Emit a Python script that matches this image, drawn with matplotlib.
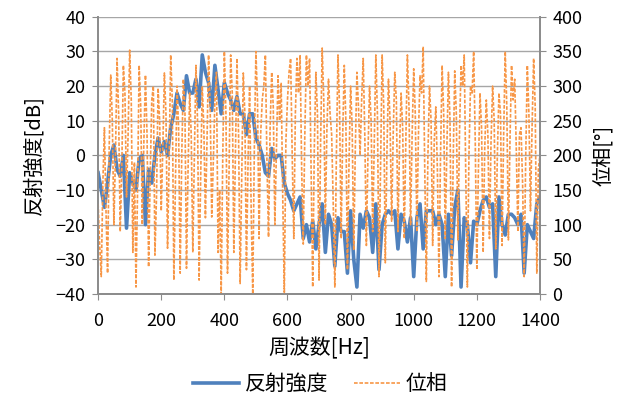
import numpy as np
import matplotlib
matplotlib.use('Agg')
import matplotlib.pyplot as plt

plt.rcParams['font.family'] = ['Noto Sans CJK JP', 'DejaVu Sans']

# 周波数 [Hz]
freq = np.arange(0, 1401, 10)       # 反射強度: 10 Hz刻み
freq_ph = np.arange(0, 1401, 5)     # 位相: 5 Hz刻み

# 反射強度 [dB]
intensity = [
    -5, -10, -15, -8, 0, 3, -4, -6, 0, -21,
    -5, -8, -10, -1, 0, -20, -4, -8, 0, 5,
    1, 4, 0, 8, 12, 18, 15, 13, 23, 18,
    18, 22, 14, 29, 24, 21, 13, 26, 19, 12,
    21, 18, 16, 13, 17, 12, 12, 6, 12, 12,
    5, 3, 0, -5, -6, 2, -1, 0, 0, -8,
    -11, -13, -16, -14, -12, -24, -20, -25, -19, -27,
    -20, -14, -28, -17, -20, -32, -18, -22, -22, -34,
    -16, -30, -38, -17, -21, -16, -18, -28, -14, -33,
    -20, -17, -16, -17, -16, -27, -17, -19, -25, -18,
    -35, -18, -14, -27, -16, -16, -16, -20, -17, -20,
    -35, -17, -29, -15, -10, -38, -18, -20, -31, -19,
    -20, -16, -13, -12, -15, -14, -35, -12, -20, -23,
    -17, -17, -18, -20, -17, -34, -20, -22, -24, -14,
    -12,
]

# 位相 [°]  (1行 = 100 Hz分)
phase = [
    130, 70, 25, 160, 240, 120, 30, 210, 316, 250, 100, 200, 340, 260, 90, 180, 330, 290, 140, 230,
    352, 280, 60, 190, 10, 150, 330, 270, 100, 220, 316, 230, 39, 170, 280, 300, 56, 140, 297, 250,
    120, 210, 319, 260, 66, 190, 345, 280, 20, 160, 300, 240, 30, 200, 310, 270, 37, 180, 290, 230,
    60, 200, 330, 250, 20, 170, 300, 240, 110, 220, 345, 270, 111, 190, 280, 320, 60, 150, 0, 200,
    350, 260, 30, 180, 345, 290, 60, 200, 340, 230, 15, 170, 319, 260, 35, 190, 300, 120, 0, 210,
    350, 280, 80, 230, 280, 300, 345, 190, 82, 240, 320, 270, 100, 210, 315, 250, 305, 140, 0, 220,
    280, 320, 340, 200, 80, 260, 340, 290, 345, 180, 72, 230, 345, 300, 340, 170, 10, 210, 320, 260,
    20, 220, 355, 280, 100, 240, 310, 260, 230, 130, 10, 200, 345, 270, 80, 230, 330, 250, 35, 190,
    300, 240, 63, 210, 320, 270, 200, 280, 340, 230, 70, 200, 300, 250, 90, 220, 345, 260, 25, 180,
    345, 270, 45, 200, 310, 250, 105, 230, 320, 280, 90, 210, 290, 240, 80, 220, 345, 270, 100, 230,
    325, 260, 90, 230, 315, 290, 357, 180, 18, 200, 300, 250, 70, 220, 270, 180, 25, 200, 330, 260,
    80, 210, 320, 250, 10, 190, 322, 260, 78, 230, 330, 300, 345, 170, 10, 200, 300, 290, 350, 220,
    35, 180, 290, 240, 60, 210, 280, 230, 80, 220, 300, 250, 65, 200, 290, 260, 70, 230, 350, 270,
    78, 220, 330, 280, 310, 210, 90, 230, 240, 160, 25, 200, 330, 260, 120, 240, 340, 270, 30, 180,
    200,
]

BLUE = '#4F81BD'
ORANGE = '#F79646'
GRAY = '#8C8C8C'

fig = plt.figure(figsize=(6.33, 4.01), dpi=100)
ax = fig.add_axes([0.155, 0.267, 0.698, 0.691])
ax2 = ax.twinx()

l1, = ax.plot(freq, intensity, color=BLUE, linewidth=2.6, label='反射強度',
              solid_joinstyle='round')
l2, = ax2.plot(freq_ph, phase, color=ORANGE, linewidth=1.2, linestyle=(0, (2.2, 1.0)),
               label='位相')

ax.set_xlim(0, 1400)
ax.set_ylim(-40, 40)
ax2.set_ylim(0, 400)
ax.set_xticks(np.arange(0, 1401, 200))
ax.set_yticks(np.arange(-40, 41, 10))
ax2.set_yticks(np.arange(0, 401, 50))

ax.yaxis.grid(True, color='#A6A6A6', linewidth=1.0)
ax.set_axisbelow(True)

for a in (ax, ax2):
    a.spines['top'].set_visible(False)
    for side in ('left', 'right', 'bottom'):
        a.spines[side].set_color(GRAY)
        a.spines[side].set_linewidth(1.3)
    a.tick_params(colors=GRAY, labelcolor='black', labelsize=13, length=4)
ax.tick_params(axis='x', pad=9)
ax.tick_params(axis='y', pad=5)
ax2.tick_params(axis='y', pad=5)

ax.set_xlabel('周波数[Hz]', fontsize=15, labelpad=5)
ax.set_ylabel('反射強度[dB]', fontsize=14.5, labelpad=8)
ax2.set_ylabel('位相[°]', fontsize=14.5, labelpad=8)

fig.legend([l1, l2], ['反射強度', '位相'], loc='center',
           bbox_to_anchor=(0.506, 0.042), ncol=2, frameon=False,
           fontsize=15, handlelength=2.2, handletextpad=0.3, columnspacing=1.2)

fig.savefig('out.png', dpi=100)
